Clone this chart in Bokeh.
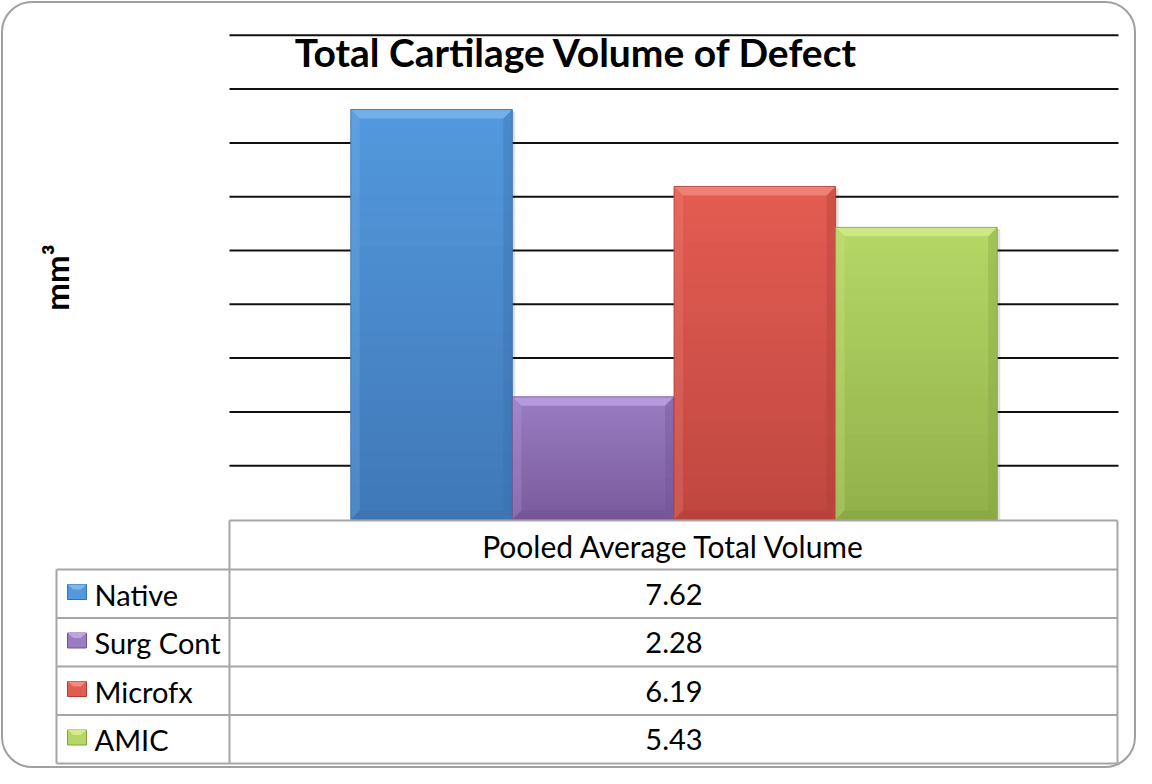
import numpy as np
from bokeh.plotting import figure
from bokeh.models import Range1d
from bokeh.core.properties import value
from bokeh.embed import file_html
from bokeh.resources import INLINE

# ---------------- data ----------------
title_text = "Total Cartilage Volume of Defect"
y_label = "mm³"
table_header = "Pooled Average Total Volume"
series = ["Native", "Surg Cont", "Microfx", "AMIC"]
values = [7.62, 2.28, 6.19, 5.43]
value_labels = ["7.62", "2.28", "6.19", "5.43"]
grid_ticks = [1, 2, 3, 4, 5, 6, 7, 8, 9]

# ---------------- styles ----------------
top_colors = ["#5399DD", "#9A7CC3", "#E35C52", "#B4D766"]
bottom_colors = ["#4078B8", "#7A5B9C", "#BF4740", "#92B04A"]
light_colors = ["#7DB7EE", "#BFA5E6", "#F28C82", "#D4EC8E"]
dark_colors = ["#3A6EA8", "#6E5290", "#AD3E37", "#84A043"]
FONT = "Lato"
TABLE_LINE = "#A6A6A6"
TFS = 29            # table font size (px)
HFS = 30            # header font size (px)
TITLE_FS = 39
K = 0.42            # baseline compensation factor

W, H = 1136, 768
PX = 53.8           # pixels per y unit
BASE = 519          # screen y of value 0


def yv(py):
    return (BASE - py) / PX


plot_left, plot_right = 229, 1118
n = len(series)
gap = 1.5
cat_w = plot_right - plot_left
bar_w = cat_w / (n + gap)
center = (plot_left + plot_right) / 2

p = figure(width=W, height=H, output_backend="svg", toolbar_location=None,
           x_range=Range1d(0, W), y_range=Range1d(yv(H), yv(0)),
           x_axis_type=None, y_axis_type=None, min_border=0)
p.outline_line_color = None
p.xgrid.visible = False
p.ygrid.visible = False
p.background_fill_color = "white"

# outer rounded border
p.quad(left=[1.5], right=[W - 1.5], top=[yv(1.5)], bottom=[yv(H - 1.5)],
       fill_color=None, line_color="#A0A0A0", line_width=2, border_radius=30)

# gridlines
p.segment(x0=[plot_left] * len(grid_ticks), x1=[plot_right] * len(grid_ticks),
          y0=grid_ticks, y1=grid_ticks, line_color="#111111", line_width=2)

# bars
b = 9.0
by = b / PX


def hex2rgb(h):
    h = h.lstrip("#")
    return np.array([int(h[i:i + 2], 16) for i in (0, 2, 4)], dtype=float)


def rgb2hex(c):
    return "#%02x%02x%02x" % tuple(int(round(v)) for v in c)


for i, v in enumerate(values):
    L = center - n * bar_w / 2 + i * bar_w
    R = L + bar_w
    # shadow
    p.quad(left=[L + 3], right=[R + 3], top=[v - 2 / PX], bottom=[0],
           fill_color="#000000", fill_alpha=0.12, line_color=None)
    # vertical gradient bands
    nb = 24
    c0, c1 = hex2rgb(top_colors[i]), hex2rgb(bottom_colors[i])
    edges = np.linspace(v, 0, nb + 1)
    bottoms = [max(e - 1.0 / PX, 0) for e in edges[1:]]
    cols = [rgb2hex(c0 + (c1 - c0) * (k + 0.5) / nb) for k in range(nb)]
    p.quad(left=[L] * nb, right=[R] * nb, top=list(edges[:-1]), bottom=bottoms,
           fill_color=cols, line_color=None)
    # bevels
    p.patch(x=[L, R, R - b, L + b], y=[v, v, v - by, v - by],
            fill_color=light_colors[i], fill_alpha=0.75, line_color=None)
    p.patch(x=[L, L + b, L + b, L], y=[v, v - by, by, 0],
            fill_color=light_colors[i], fill_alpha=0.25, line_color=None)
    p.patch(x=[R, R - b, R - b, R], y=[v, v - by, by, 0],
            fill_color=dark_colors[i], fill_alpha=0.35, line_color=None)
    p.patch(x=[L, R, R - b, L + b], y=[0, 0, by, by],
            fill_color=dark_colors[i], fill_alpha=0.45, line_color=None)
    p.quad(left=[L], right=[R], top=[v], bottom=[0], fill_color=None,
           line_color=dark_colors[i], line_width=1, line_alpha=0.8)

# table
header_top = 520
header_h = 49
row_h = 48.5
table_left = 56
table_right = 1117
row_tops = [header_top + header_h + row_h * k for k in range(n)]
table_bottom = header_top + header_h + row_h * n

hx0 = [plot_left] + [table_left] * (n + 1)
hx1 = [table_right] * (n + 2)
hy = [header_top] + row_tops + [table_bottom]
p.segment(x0=hx0, x1=hx1, y0=[yv(y) for y in hy], y1=[yv(y) for y in hy],
          line_color=TABLE_LINE, line_width=2)
p.segment(x0=[table_left, plot_left, table_right], x1=[table_left, plot_left, table_right],
          y0=[yv(row_tops[0]), yv(header_top), yv(header_top)],
          y1=[yv(table_bottom)] * 3, line_color=TABLE_LINE, line_width=2)

# header text
p.text(x=[center], y=[yv(header_top + 38 - K * HFS)], text=[table_header],
       text_font=value(FONT), text_font_size=value(f"{HFS}px"), text_align="center",
       text_baseline="alphabetic", text_color="black")

# row contents
for i in range(n):
    rt = row_tops[i]
    p.quad(left=[67], right=[86], top=[yv(rt + 15)], bottom=[yv(rt + 30)],
           fill_color=top_colors[i], line_color=dark_colors[i], line_width=1)
    p.patch(x=[67, 86, 80, 73], y=[yv(rt + 15), yv(rt + 15), yv(rt + 20), yv(rt + 20)],
            fill_color=light_colors[i], line_color=None)
row_y = [yv(rt + 37 - K * TFS) for rt in row_tops]
p.text(x=[94] * n, y=row_y, text=series,
       text_font=value(FONT), text_font_size=value(f"{TFS}px"), text_align="left",
       text_baseline="alphabetic", text_color="black")
p.text(x=[center] * n, y=row_y, text=value_labels,
       text_font=value(FONT), text_font_size=value(f"{TFS}px"), text_align="center",
       text_baseline="alphabetic", text_color="black")

# title
p.text(x=[576], y=[yv(68 - K * TITLE_FS)], text=[title_text], text_font=value(FONT),
       text_font_size=value(f"{TITLE_FS}px"), text_font_style="bold", text_align="center",
       text_baseline="alphabetic", text_color="black")

# y axis label
p.text(x=[55], y=[yv(277)], text=[y_label], text_font=value(FONT),
       text_font_size=value("33px"), text_font_style="bold", text_align="center",
       text_baseline="middle", angle=np.pi / 2, text_color="black")

open("out.html", "w").write(file_html(p, INLINE))
